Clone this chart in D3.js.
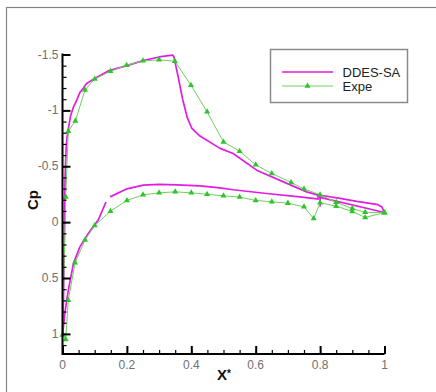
<!DOCTYPE html>
<html><head><meta charset="utf-8">
<script src="https://cdn.jsdelivr.net/npm/d3@7"></script>
<style>body{margin:0;background:#fff}svg{display:block}</style>
</head><body>
<script>
// ---- data ----
const xTicks = [0, 0.2, 0.4, 0.6, 0.8, 1];
const xTickLabels = ["0", "0.2", "0.4", "0.6", "0.8", "1"];
const yTicks = [-1.5, -1, -0.5, 0, 0.5, 1];
const yTickLabels = ["-1.5", "-1", "-0.5", "0", "0.5", "1"];
const seriesNames = ["DDES-SA", "Expe"];

// DDES-SA (main element upper surface, from leading edge)
const ddesUpper = [[0,1.03],[0.003,0.7],[0.005,0.3],[0.006,0],[0.008,-0.4],[0.011,-0.65],[0.014,-0.76],[0.018,-0.83],[0.025,-0.95],[0.034,-1.03],[0.044,-1.09],[0.054,-1.16],[0.065,-1.2],[0.075,-1.24],[0.1,-1.285],[0.142,-1.353],[0.2,-1.4],[0.25,-1.445],[0.3,-1.478],[0.342,-1.495],[0.346,-1.48],[0.36,-1.29],[0.373,-1.1],[0.388,-0.93],[0.402,-0.838],[0.427,-0.77],[0.489,-0.66],[0.53,-0.614],[0.603,-0.465],[0.686,-0.36],[0.758,-0.271],[0.797,-0.24]];
// DDES-SA lower surface, leading part
const ddesLowerA = [[0,1.03],[0.0025,0.95],[0.008,0.8],[0.018,0.608],[0.034,0.369],[0.054,0.221],[0.08,0.101],[0.111,-0.018],[0.135,-0.18]];
// DDES-SA lower surface, rear part
const ddesLowerB = [[0.148,-0.226],[0.2,-0.298],[0.251,-0.331],[0.3,-0.338],[0.355,-0.334],[0.427,-0.325],[0.489,-0.307],[0.53,-0.29],[0.634,-0.256],[0.737,-0.226],[0.797,-0.206]];
// DDES-SA main element trailing edge
const ddesCove = [[0.8,-0.25],[0.8,-0.14]];
// DDES-SA flap
const ddesFlapUpper = [[0.79,-0.245],[0.862,-0.212],[0.914,-0.185],[0.96,-0.166],[0.98,-0.156],[0.992,-0.135],[1.0,-0.086]];
const ddesFlapLower = [[0.79,-0.228],[1.0,-0.086]];

// Experiment, upper surface from trailing edge to leading edge, then lower surface
const expeX  = [1.0,0.94,0.90,0.85,0.80,0.75,0.71,0.65,0.60,0.55,0.50,0.449,0.399,0.349,0.30,0.25,0.199,0.149,0.10,0.07,0.04,0.018,0.01,0.0,0.01,0.018,0.039,0.07,0.10,0.149,0.20,0.25,0.30,0.35,0.40,0.449,0.50,0.55,0.60,0.65,0.70,0.75,0.78,0.80,0.85,0.90,0.94,1.0];
const expeCp = [-0.085,-0.088,-0.122,-0.178,-0.245,-0.297,-0.355,-0.435,-0.513,-0.635,-0.718,-0.987,-1.225,-1.44,-1.452,-1.443,-1.404,-1.35,-1.28,-1.183,-0.906,-0.814,-0.224,1.01,1.05,0.70,0.364,0.16,0.03,-0.098,-0.194,-0.244,-0.262,-0.271,-0.262,-0.25,-0.235,-0.224,-0.194,-0.182,-0.17,-0.137,-0.032,-0.173,-0.143,-0.095,-0.042,-0.085];

// ---- drawing ----
const W = 436, H = 392;
const svg = d3.select("body").append("svg").attr("width", W).attr("height", H);

svg.append("rect").attr("x", 6.5).attr("y", 7.5).attr("width", W).attr("height", H)
  .attr("fill", "none").attr("stroke", "#858585").attr("stroke-width", 1.2);

const x = d3.scaleLinear().domain([0, 1]).range([62.5, 384.5]);
const y = d3.scaleLinear().domain([-1.5, 1.18]).range([54.5, 354]);

const magenta = "#e01ee0";
const lineGen = d3.line().x(d => x(d[0])).y(d => y(d[1]));

const g = svg.append("g");
[ddesUpper, ddesLowerA, ddesLowerB, ddesCove, ddesFlapUpper, ddesFlapLower].forEach(seg => {
  g.append("path").attr("d", lineGen(seg)).attr("fill", "none")
    .attr("stroke", magenta).attr("stroke-width", 1.7).attr("stroke-linejoin", "round");
});

const expe = expeX.map((v, i) => [v, expeCp[i]]);
g.append("path").attr("d", lineGen(expe)).attr("fill", "none")
  .attr("stroke", "#6fd05f").attr("stroke-width", 1);
const tri = d3.symbol().type(d3.symbolTriangle).size(16);
g.selectAll("path.m").data(expe).join("path").attr("class", "m")
  .attr("transform", d => `translate(${x(d[0])},${y(d[1])})`)
  .attr("d", tri).attr("fill", "#2ec42a");

// axes
const axG = svg.append("g");
const xMinor = d3.range(0, 21).map(i => i * 0.05);
const yMinor = d3.range(-15, 12).map(i => i / 10);
axG.append("g").attr("transform", `translate(0,${y(1.18)})`)
  .call(d3.axisTop(x).tickValues(xMinor).tickSize(4).tickFormat(""))
  .call(s => s.select(".domain").remove())
  .selectAll("line").attr("stroke", "#000").attr("stroke-width", 1.2);
axG.append("g").attr("transform", `translate(0,${y(1.18)})`)
  .call(d3.axisTop(x).tickValues(xTicks).tickSize(8).tickFormat(""))
  .call(s => s.select(".domain").remove())
  .selectAll("line").attr("stroke", "#000").attr("stroke-width", 2);
axG.append("g").attr("transform", `translate(${x(0)},0)`)
  .call(d3.axisRight(y).tickValues(yMinor).tickSize(4).tickFormat(""))
  .call(s => s.select(".domain").remove())
  .selectAll("line").attr("stroke", "#000").attr("stroke-width", 1.2);
axG.append("g").attr("transform", `translate(${x(0)},0)`)
  .call(d3.axisRight(y).tickValues(yTicks).tickSize(8).tickFormat(""))
  .call(s => s.select(".domain").remove())
  .selectAll("line").attr("stroke", "#000").attr("stroke-width", 2);
axG.append("line").attr("x1", x(0)).attr("x2", x(1)).attr("y1", y(1.18)).attr("y2", y(1.18))
  .attr("stroke", "#000").attr("stroke-width", 2);
axG.append("line").attr("x1", x(0)).attr("x2", x(0)).attr("y1", y(-1.5) - 1).attr("y2", y(1.18) + 1)
  .attr("stroke", "#000").attr("stroke-width", 2);

const font = "'Liberation Sans', Arial, sans-serif";
axG.selectAll("text.xl").data(xTicks).join("text").attr("class", "xl")
  .attr("x", d => x(d)).attr("y", y(1.18) + 15).attr("text-anchor", "middle")
  .attr("font-family", font).attr("font-size", 12).attr("fill", "#707070")
  .text((d, i) => xTickLabels[i]);
axG.selectAll("text.yl").data(yTicks).join("text").attr("class", "yl")
  .attr("x", x(0) - 4).attr("y", d => y(d) + 4).attr("text-anchor", "end")
  .attr("font-family", font).attr("font-size", 12).attr("fill", "#707070")
  .text((d, i) => yTickLabels[i]);

// axis titles
svg.append("text").attr("transform", "translate(38,200) rotate(-90)")
  .attr("text-anchor", "middle").attr("font-family", font).attr("font-weight", "bold")
  .attr("font-size", 15).attr("fill", "#111").text("Cp");
const xt = svg.append("text").attr("x", 217).attr("y", 380).attr("font-family", font)
  .attr("font-weight", "bold").attr("font-size", 15).attr("fill", "#111");
xt.append("tspan").text("X");
xt.append("tspan").attr("font-size", 10).attr("dy", -3).text("*");

// legend
const lg = svg.append("g");
lg.append("rect").attr("x", 270.5).attr("y", 49.5).attr("width", 137).attr("height", 53)
  .attr("fill", "#fff").attr("stroke", "#8a8a8a").attr("stroke-width", 1.5);
lg.append("line").attr("x1", 282).attr("x2", 333).attr("y1", 72).attr("y2", 72)
  .attr("stroke", magenta).attr("stroke-width", 1.7);
lg.append("line").attr("x1", 282).attr("x2", 333).attr("y1", 86).attr("y2", 86)
  .attr("stroke", "#6fd05f").attr("stroke-width", 1);
lg.append("path").attr("transform", "translate(307.5,86)").attr("d", tri).attr("fill", "#2ec42a");
lg.selectAll("text").data(seriesNames).join("text")
  .attr("x", 342.5).attr("y", (d, i) => 77 + i * 14)
  .attr("font-family", font).attr("font-size", 13).attr("fill", "#222").text(d => d);
</script>
</body></html>
